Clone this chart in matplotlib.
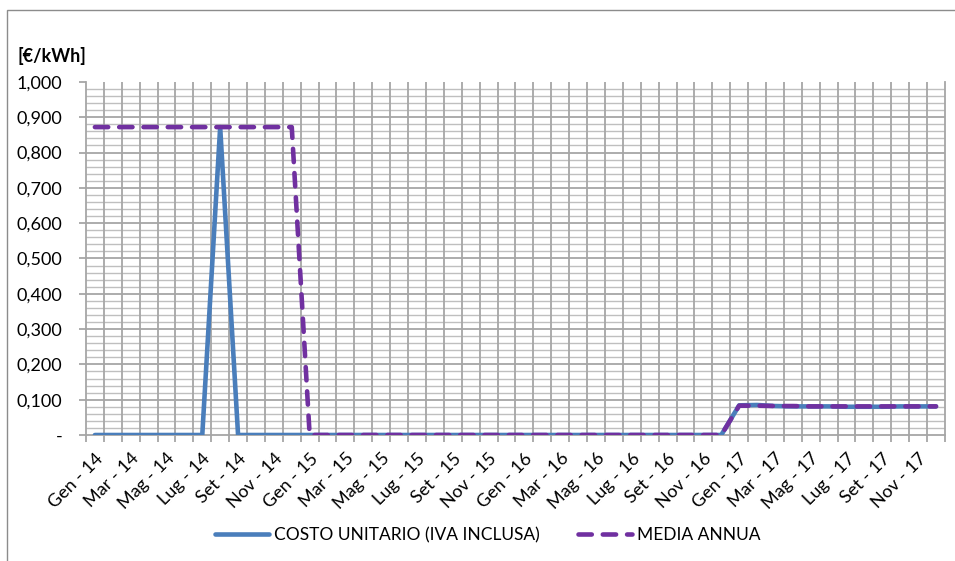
import numpy as np
import matplotlib.pyplot as plt
from matplotlib.patches import Rectangle

plt.rcParams['font.family'] = ['Lato', 'DejaVu Sans']

mesi = ["Gen", "Feb", "Mar", "Apr", "Mag", "Giu", "Lug", "Ago", "Set", "Ott", "Nov", "Dic"]
anni = ["14", "15", "16", "17"]
categorie = [m + " - " + a for a in anni for m in mesi]

# costo unitario mensile [€/kWh]
costo = [0, 0, 0, 0, 0, 0, 0, 0.872, 0, 0, 0, 0,
         0, 0, 0, 0, 0, 0, 0, 0, 0, 0, 0, 0,
         0, 0, 0, 0, 0, 0, 0, 0, 0, 0, 0, 0,
         0.084, 0.085, 0.082, 0.081, 0.081, 0.081, 0.080, 0.080, 0.080, 0.081, 0.081, 0.081]

# media annua [€/kWh]
media = [0.872] * 12 + [0] * 24 + [0.083, 0.083, 0.082, 0.082, 0.081, 0.081,
                                   0.081, 0.081, 0.081, 0.081, 0.081, 0.081]

y_ticks = [0, 0.1, 0.2, 0.3, 0.4, 0.5, 0.6, 0.7, 0.8, 0.9, 1.0]
y_labels = ["-"] + ["{:.3f}".format(v).replace(".", ",") for v in y_ticks[1:]]

fig = plt.figure(figsize=(9.55, 5.61), dpi=100)
ax = fig.add_axes([0.090, 0.2246, 0.8995, 0.6294])

x = np.arange(len(categorie))

# griglia: righe ogni 0,02 e colonne ad ogni mese
for v in np.arange(0.02, 1.0, 0.02):
    major = abs(v * 10 - round(v * 10)) < 1e-6
    ax.axhline(v, color='#a6a6a6' if major else '#bfbfbf', lw=1.3 if major else 1.0, zorder=0)
for b in np.arange(0.5, len(categorie) - 0.5, 1):
    ax.axvline(b, color='#a6a6a6', lw=1.3, zorder=0)

ax.plot(x, costo, color='#4a7ebb', lw=3.3, solid_capstyle='round', solid_joinstyle='round',
        label='COSTO UNITARIO (IVA INCLUSA)', zorder=3)
ax.plot(x, media, color='#7030a0', lw=3.3, linestyle=(0, (2.9, 2.4)), dash_capstyle='round',
        label='MEDIA ANNUA', zorder=4)

ax.set_xlim(-0.5, len(categorie) - 0.5)
ax.set_ylim(0, 1.0)

ax.set_yticks(y_ticks)
ax.set_yticklabels(y_labels, fontsize=13)
ax.set_xticks(x[::2])
ax.set_xticklabels(categorie[::2], rotation=45, ha='right', rotation_mode='anchor', fontsize=13)
ax.set_xticks(np.arange(-0.5, len(categorie), 1), minor=True)
ax.tick_params(axis='x', which='major', length=0, pad=11)
ax.tick_params(axis='x', which='minor', length=5, color='#a6a6a6', width=1.3, direction='out')
ax.tick_params(axis='y', length=5, color='#a6a6a6', width=1.3, direction='out', pad=12)

for s in ['top', 'right']:
    ax.spines[s].set_visible(False)
ax.spines['left'].set_color('#a6a6a6')
ax.spines['bottom'].set_color('#a6a6a6')
ax.spines['left'].set_linewidth(1.3)
ax.spines['bottom'].set_linewidth(1.3)
ax.plot([1, 1], [0, 1], transform=ax.transAxes, color='#a6a6a6', lw=1.3, clip_on=False)

fig.text(0.018, 0.9, "[€/kWh]", fontsize=13, fontweight='bold', va='center', ha='left')

fig.legend(loc='center', bbox_to_anchor=(0.511, 0.046), ncol=2, frameon=False,
           fontsize=12.5, handlelength=3.1, columnspacing=2.2, handletextpad=0.3)

# cornice del grafico
fig.patches.append(Rectangle((0.0073, -0.05), 1.1, 1.033, transform=fig.transFigure,
                             fill=False, edgecolor='#8c8c8c', lw=1.0))

fig.savefig('out.png', dpi=100)
